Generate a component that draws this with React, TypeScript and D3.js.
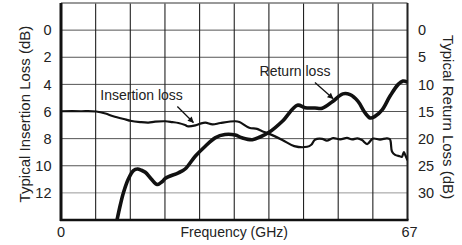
import * as d3 from "d3";
import React from "react";

// Insertion loss (left axis, dB) vs frequency (GHz)
const ilFreq = [0, 3.8, 6.8, 8.6, 10.1, 12.6, 13.4, 15.3, 16.9, 18.2, 20.2, 21.5, 22.7, 24.0, 24.6, 26.0, 26.9, 27.9, 29.3, 30.8, 33.7, 34.5, 36.4, 37.9, 38.9, 40.3, 42.8, 45.1, 47.6, 48.4, 49.1, 50.5, 51.4, 52.6, 54.0, 55.3, 56.3, 57.3, 58.2, 59.2, 60.3, 61.7, 63.0, 63.6, 64.0, 64.6, 65.5, 65.9, 66.3, 66.5, 67];
const ilValues = [5.98, 5.98, 6.0, 6.15, 6.35, 6.6, 6.68, 6.78, 6.82, 6.75, 6.72, 6.78, 6.85, 7.0, 7.1, 7.02, 6.9, 6.82, 6.95, 6.85, 6.72, 6.78, 7.2, 7.28, 7.45, 7.65, 8.1, 8.55, 8.6, 8.45, 8.08, 8.02, 8.15, 7.97, 8.06, 7.95, 8.06, 7.98, 8.1, 8.4, 8.0, 8.07, 7.98, 8.05, 8.95, 9.2, 9.3, 9.35, 9.0, 9.15, 9.6];

// Return loss (right axis, dB) vs frequency (GHz)
const rlFreq = [10.5, 11.5, 12.1, 13.0, 14.0, 14.8, 15.5, 16.3, 17.5, 18.6, 19.6, 20.2, 22.7, 24.0, 26.0, 27.9, 29.8, 31.7, 33.7, 35.0, 37.0, 38.5, 40.3, 42.8, 45.7, 47.2, 49.1, 50.5, 52.6, 54.5, 55.9, 57.4, 58.8, 59.8, 60.7, 62.1, 63.6, 65.2, 66.1, 67];
const rlValues = [36.5, 32.1, 29.9, 27.5, 25.9, 25.6, 25.8, 26.2, 27.5, 28.45, 27.9, 27.3, 26.3, 25.6, 23.2, 21.4, 19.85, 19.25, 19.35, 19.85, 20.2, 19.7, 18.8, 16.8, 13.85, 14.3, 14.35, 14.4, 13.1, 11.75, 11.9, 13.1, 15.25, 16.2, 15.9, 14.7, 12.2, 10.0, 9.4, 9.6];

const leftTicks = [0, 2, 4, 6, 8, 10, 12];
const rightTicks = [0, 5, 10, 15, 20, 25, 30];
const xGrid = d3.range(0, 11).map((i) => i * 6.7);
const leftGrid = [0, 2, 4, 6, 8, 10, 12];
const xTickLabels = [{ v: 0, label: "0" }, { v: 67, label: "67" }];

export default function App() {
  const left = 61, right = 407.5, top = 3, bottom = 220;
  const x = d3.scaleLinear().domain([0, 67]).range([left, right]);
  const yL = d3.scaleLinear().domain([-2, 14]).range([top, bottom]);
  const yR = d3.scaleLinear().domain([-5, 35]).range([top, bottom]);

  const ilLine = d3.line<number>()
    .x((d, i) => x(ilFreq[i]))
    .y((d) => yL(d))
    .curve(d3.curveCatmullRom.alpha(0.5));
  const rlLine = d3.line<number>()
    .x((d, i) => x(rlFreq[i]))
    .y((d) => yR(d))
    .curve(d3.curveCatmullRom.alpha(0.5));

  const font = "Liberation Sans, Arial, Helvetica, sans-serif";

  // annotation arrows in data units
  const ilArrow = { x1: x(22.5), y1: yL(5.63), x2: x(25.6), y2: yL(6.81) };
  const rlArrow = { x1: x(49.1), y1: yR(9.67), x2: x(52.6), y2: yR(12.6) };

  return (
    <svg width={462} height={245} style={{ position: "absolute", left: 0, top: 0, background: "#fff" }} fontFamily={font}>
      <defs>
        <clipPath id="plot">
          <rect x={left} y={top} width={right - left} height={bottom - top} />
        </clipPath>
        <marker id="arr" viewBox="0 0 10 10" refX="9" refY="5" markerWidth="7" markerHeight="6" orient="auto" markerUnits="userSpaceOnUse">
          <path d="M0,0 L10,5 L0,10 Z" fill="#111" />
        </marker>
      </defs>

      {/* horizontal grid */}
      {leftGrid.map((v) => (
        <line key={"h" + v} x1={left} x2={right} y1={yL(v)} y2={yL(v)} stroke={v === 12 ? "#999" : "#555"} strokeWidth={1} />
      ))}
      {/* vertical grid */}
      {xGrid.map((v, i) => (
        <line key={"v" + i} x1={x(v)} x2={x(v)} y1={top} y2={bottom} stroke="#222" strokeWidth={1.1} />
      ))}

      {/* frame */}
      <line x1={left} x2={right} y1={top} y2={top} stroke="#777" strokeWidth={1.5} />
      <line x1={right} x2={right} y1={top} y2={bottom} stroke="#222" strokeWidth={2} />
      <line x1={left} x2={left} y1={top} y2={bottom + 1} stroke="#111" strokeWidth={3} />
      <line x1={left - 1} x2={right + 1} y1={bottom} y2={bottom} stroke="#111" strokeWidth={2.5} />

      {/* curves */}
      <g clipPath="url(#plot)">
        <path d={ilLine(ilValues) ?? ""} fill="none" stroke="#111" strokeWidth={2.2} strokeLinejoin="round" />
        <path d={rlLine(rlValues) ?? ""} fill="none" stroke="#111" strokeWidth={3.6} strokeLinejoin="round" />
      </g>

      {/* left ticks */}
      {leftTicks.map((v) => (
        <text key={"l" + v} x={51.5} y={yL(v)} dy="0.36em" textAnchor="end" fontSize={14.5} fill="#222">{v}</text>
      ))}
      {/* right ticks */}
      {rightTicks.map((v) => (
        <text key={"r" + v} x={418} y={yR(v)} dy="0.36em" textAnchor="start" fontSize={14.5} fill="#222">{v}</text>
      ))}
      {/* x tick labels */}
      {xTickLabels.map((t) => (
        <text key={"x" + t.v} x={t.v === 0 ? x(t.v) : x(t.v) + 2} y={237} textAnchor="middle" fontSize={14.5} fill="#222">{t.label}</text>
      ))}

      <text x={(left + right) / 2} y={237} textAnchor="middle" fontSize={14} fill="#222">Frequency (GHz)</text>
      <text transform={`translate(29.5,114) rotate(-90)`} textAnchor="middle" fontSize={15} fill="#222">Typical Insertion Loss (dB)</text>
      <text transform={`translate(443,117) rotate(90)`} textAnchor="middle" fontSize={15} fill="#222">Typical Return Loss (dB)</text>

      {/* annotations */}
      <text x={x(7.6)} y={yL(5.12)} fontSize={14} fill="#222">Insertion loss</text>
      <line {...ilArrow} stroke="#111" strokeWidth={1.3} markerEnd="url(#arr)" />
      <text x={x(38.4)} y={yR(8.38)} fontSize={14} fill="#222">Return loss</text>
      <line {...rlArrow} stroke="#111" strokeWidth={1.3} markerEnd="url(#arr)" />
    </svg>
  );
}
